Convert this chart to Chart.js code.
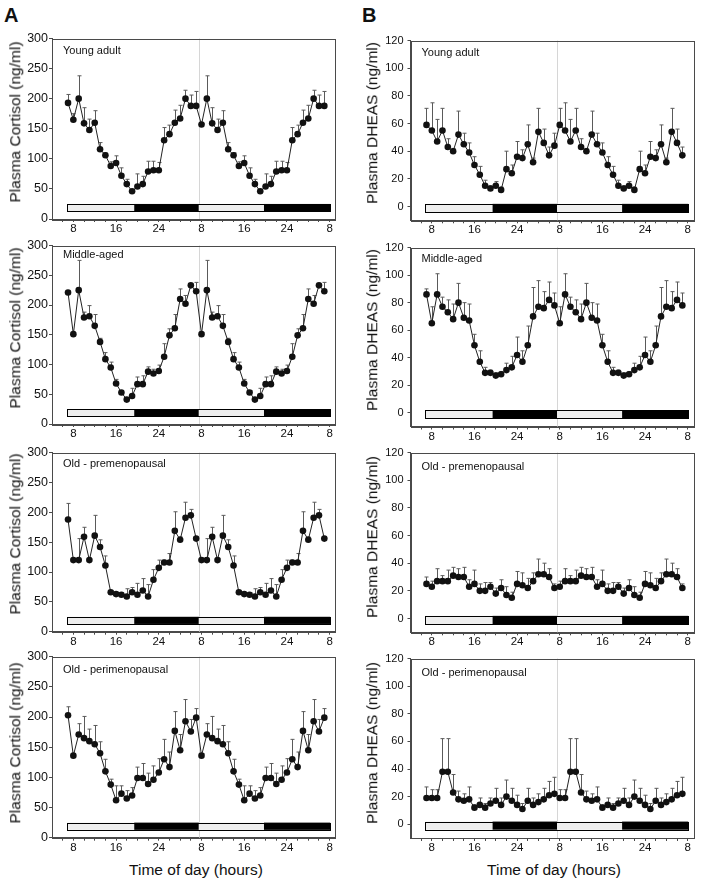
<!DOCTYPE html>
<html>
<head>
<meta charset="utf-8">
<script src="https://cdn.jsdelivr.net/npm/chart.js@4.4.1/dist/chart.umd.min.js"></script>
<style>
  body { margin: 0; background: #fff; }
  #fig { position: relative; width: 710px; height: 884px; overflow: hidden; font-family: 'Liberation Sans', Arial, sans-serif; color: #111; }
  #fig canvas { position: absolute; }
  .txt { position: absolute; white-space: nowrap; line-height: 1; }
  .big { font-size: 20px; font-weight: bold; }
  .ytitle { font-size: 15.5px; transform: translate(-50%, -50%) rotate(-90deg); }
  .xtitle { font-size: 15.5px; transform: translate(-50%, -50%); }
</style>
</head>
<body>
<div id="fig">
  <div class="txt big" style="left:4px; top:5px;">A</div>
  <div class="txt big" style="left:362px; top:5px;">B</div>
  <div class="txt xtitle" style="left:196px; top:870px;">Time of day (hours)</div>
  <div class="txt xtitle" style="left:554px; top:870px;">Time of day (hours)</div>
</div>
<script>
// ---- data ----
const hours = [7, 8, 9, 10, 11, 12, 13, 14, 15, 16, 17, 18, 19, 20, 21, 22, 23, 24, 25, 26, 27, 28, 29, 30, 31,
               32, 33, 34, 35, 36, 37, 38, 39, 40, 41, 42, 43, 44, 45, 46, 47, 48, 49, 50, 51, 52, 53, 54, 55];
const tickHours = [6, 8, 10, 12, 14, 16, 18, 20, 22, 24, 26, 28, 30, 32, 34, 36, 38, 40, 42, 44, 46, 48, 50, 52, 54, 56];
const tickLabels = { 8: '8', 16: '16', 24: '24', 32: '8', 40: '16', 48: '24', 56: '8' };
const lightDark = [6.8, 19.4, 31.5, 43.7, 56.1];
const phases = ['light', 'dark', 'light', 'dark'];
const dayBreak = 31.5;

// plasma cortisol (ng/ml), mean and upper SEM
const cortYoung = [193, 165, 200, 159, 148, 160, 116, 106, 88, 93, 72, 58, 46, 54, 58, 79, 81, 81, 131, 141, 160, 167, 200, 188, 188,
                   157, 200, 159, 148, 160, 116, 106, 88, 93, 72, 58, 46, 54, 58, 79, 81, 81, 131, 141, 160, 167, 200, 188, 188];
const cortYoungErr = [14, 10, 38, 26, 18, 20, 11, 4, 7, 12, 13, 8, 3, 21, 13, 17, 15, 13, 21, 15, 21, 22, 14, 18, 24,
                      2, 38, 26, 18, 20, 11, 4, 7, 12, 13, 8, 3, 21, 13, 17, 15, 13, 21, 15, 21, 22, 14, 18, 24];
const cortMiddle = [221, 151, 225, 179, 181, 165, 138, 109, 95, 68, 53, 41, 47, 67, 67, 88, 85, 89, 113, 149, 161, 210, 202, 233, 223,
                    151, 225, 179, 181, 165, 138, 109, 95, 68, 53, 41, 47, 67, 67, 88, 85, 89, 113, 149, 161, 210, 202, 233, 223];
const cortMiddleErr = [3, 2, 50, 9, 18, 19, 6, 11, 9, 7, 3, 2, 13, 12, 14, 8, 7, 10, 22, 11, 23, 17, 14, 2, 15,
                       2, 50, 9, 18, 19, 6, 11, 9, 7, 3, 2, 13, 12, 14, 8, 7, 10, 22, 11, 23, 17, 14, 2, 15];
const cortPre = [188, 120, 120, 159, 120, 161, 142, 111, 66, 63, 62, 59, 66, 62, 69, 59, 87, 107, 116, 116, 169, 154, 191, 195, 156,
                 120, 120, 159, 120, 161, 142, 111, 66, 63, 62, 59, 66, 62, 69, 59, 87, 107, 116, 116, 169, 154, 191, 195, 156];
const cortPreErr = [27, 3, 36, 16, 3, 34, 12, 16, 3, 3, 3, 13, 8, 19, 20, 20, 17, 13, 4, 15, 32, 5, 26, 10, 3,
                    3, 36, 16, 3, 34, 12, 16, 3, 3, 3, 13, 8, 19, 20, 20, 17, 13, 4, 15, 32, 5, 26, 10, 3];
const cortPeri = [203, 136, 171, 165, 160, 155, 140, 110, 88, 62, 73, 65, 70, 99, 99, 89, 96, 108, 130, 117, 177, 145, 193, 176, 199,
                  136, 171, 165, 160, 155, 140, 110, 88, 62, 73, 65, 70, 99, 99, 89, 96, 108, 130, 117, 177, 145, 193, 176, 199];
const cortPeriErr = [14, 3, 18, 36, 20, 31, 19, 20, 9, 24, 13, 13, 13, 18, 24, 18, 23, 23, 33, 25, 32, 26, 36, 20, 15,
                     3, 18, 36, 20, 31, 19, 20, 9, 24, 13, 13, 13, 18, 24, 18, 23, 23, 33, 25, 32, 26, 36, 20, 15];

// plasma DHEAS (ng/ml)
const dheaYoung = [59, 55, 47, 55, 43, 40, 52, 45, 39, 30, 23, 15, 13, 15, 12, 27, 24, 36, 35, 45, 32, 54, 46, 37, 44,
                   59, 55, 47, 55, 43, 40, 52, 45, 39, 30, 23, 15, 13, 15, 12, 27, 24, 36, 35, 45, 32, 54, 46, 37];
const dheaYoungErr = [12, 20, 16, 16, 6, 2, 17, 8, 7, 6, 6, 4, 2, 3, 2, 13, 6, 11, 6, 14, 3, 17, 10, 6, 9,
                      12, 20, 16, 16, 6, 2, 17, 8, 7, 6, 6, 4, 2, 3, 2, 13, 6, 11, 6, 14, 3, 17, 10, 6];
const dheaMiddle = [86, 65, 86, 77, 73, 68, 80, 69, 67, 49, 37, 29, 29, 27, 28, 31, 33, 42, 37, 49, 70, 77, 76, 82, 78,
                    65, 86, 77, 73, 68, 80, 69, 67, 49, 37, 29, 29, 27, 28, 31, 33, 42, 37, 49, 70, 77, 76, 82, 78];
const dheaMiddleErr = [4, 12, 15, 7, 9, 11, 14, 11, 12, 8, 8, 4, 2, 2, 2, 5, 8, 13, 8, 14, 21, 19, 12, 13, 9,
                       12, 15, 7, 9, 11, 14, 11, 12, 8, 8, 4, 2, 2, 2, 5, 8, 13, 8, 14, 21, 19, 12, 13, 9];
const dheaPre = [25, 23, 27, 27, 27, 31, 30, 30, 23, 25, 20, 20, 23, 18, 22, 17, 15, 25, 24, 22, 27, 32, 32, 30, 22,
                 23, 27, 27, 27, 31, 30, 30, 23, 25, 20, 20, 23, 18, 22, 17, 15, 25, 24, 22, 27, 32, 32, 30, 22];
const dheaPreErr = [5, 4, 9, 4, 8, 6, 6, 7, 5, 10, 5, 6, 3, 4, 6, 6, 4, 9, 9, 7, 6, 11, 8, 6, 3,
                    4, 9, 4, 8, 6, 6, 7, 5, 10, 5, 6, 3, 4, 6, 6, 4, 9, 9, 7, 6, 11, 8, 6, 3];
const dheaPeri = [19, 19, 19, 38, 38, 23, 18, 17, 18, 12, 14, 12, 15, 17, 14, 20, 17, 14, 11, 17, 14, 16, 18, 21, 22,
                  19, 19, 38, 38, 23, 18, 17, 18, 12, 14, 12, 15, 17, 14, 20, 17, 14, 11, 17, 14, 16, 18, 21, 22];
const dheaPeriErr = [8, 6, 6, 24, 24, 13, 6, 5, 9, 2, 5, 3, 4, 9, 5, 12, 9, 7, 4, 9, 5, 6, 8, 10, 12,
                     6, 6, 24, 24, 13, 6, 5, 9, 2, 5, 3, 4, 9, 5, 12, 9, 7, 4, 9, 5, 6, 8, 10, 12];

const groups = ['Young adult', 'Middle-aged', 'Old - premenopausal', 'Old - perimenopausal'];

// ---- layout ----
const fontFamily = "'Liberation Sans', Arial, sans-serif";
const axisColor = '#4a4a4a';
const columns = {
    A: { x: 0, plotLeft: 52, plotRight: 335, min: 0, max: 300, yTicks: [0, 50, 100, 150, 200, 250, 300],
         band: [13, 25], tickSize: 12.5, tickPad: 1, title: 'Plasma Cortisol (ng/ml)', titleX: 14.5 },
    B: { x: 355, plotLeft: 410.5, plotRight: 693, min: -10, max: 120, yTicks: [0, 20, 40, 60, 80, 100, 120],
         band: [-4, 1.9], tickSize: 11, tickPad: 4, title: 'Plasma DHEAS (ng/ml)', titleX: 372 },
};

const panels = [
    { col: 'A', top: 38.3, bottom: 219, name: groups[0], values: cortYoung, errors: cortYoungErr, labelDy: 12.7, titleY: 121.7 },
    { col: 'A', top: 245, bottom: 424, name: groups[1], values: cortMiddle, errors: cortMiddleErr, labelDy: 9, titleY: 328.3 },
    { col: 'A', top: 452.7, bottom: 631.7, name: groups[2], values: cortPre, errors: cortPreErr, labelDy: 11, titleY: 534 },
    { col: 'A', top: 656.7, bottom: 837.7, name: groups[3], values: cortPeri, errors: cortPeriErr, labelDy: 13.3, titleY: 743 },
    { col: 'B', top: 38.3, bottom: 220.3, name: groups[0], values: dheaYoung, errors: dheaYoungErr, labelDy: 12.4, titleY: 122.5 },
    { col: 'B', top: 245, bottom: 426.5, name: groups[1], values: dheaMiddle, errors: dheaMiddleErr, labelDy: 11, titleY: 330 },
    { col: 'B', top: 450.7, bottom: 632.3, name: groups[2], values: dheaPre, errors: dheaPreErr, labelDy: 14, titleY: 536.5 },
    { col: 'B', top: 656.7, bottom: 838, name: groups[3], values: dheaPeri, errors: dheaPeriErr, labelDy: 14, titleY: 742.5 },
];

// light/dark bar, day boundary, error bars, frame, group label
const panelDecor = {
    id: 'panelDecor',
    beforeDatasetsDraw(chart, args, opts) {
        const { ctx, chartArea: a, scales: { x, y } } = chart;
        ctx.save();
        const vx = Math.round(x.getPixelForValue(dayBreak)) + 0.5;
        ctx.strokeStyle = '#d6d6d6';
        ctx.lineWidth = 1;
        ctx.beginPath();
        ctx.moveTo(vx, a.top);
        ctx.lineTo(vx, a.bottom);
        ctx.stroke();

        const yTop = y.getPixelForValue(opts.band[1]);
        const yBot = y.getPixelForValue(opts.band[0]);
        phases.forEach((ph, i) => {
            const x0 = x.getPixelForValue(lightDark[i]);
            const x1 = x.getPixelForValue(lightDark[i + 1]);
            ctx.fillStyle = ph === 'dark' ? '#000' : '#eeeeee';
            ctx.fillRect(x0, yTop, x1 - x0, yBot - yTop);
        });
        const bx0 = x.getPixelForValue(lightDark[0]);
        const bx1 = x.getPixelForValue(lightDark[lightDark.length - 1]);
        ctx.strokeStyle = '#000';
        ctx.strokeRect(Math.round(bx0) + 0.5, Math.round(yTop) + 0.5, Math.round(bx1 - bx0), Math.round(yBot - yTop));

        // upward error bars
        const ds = chart.data.datasets[0];
        ctx.strokeStyle = '#5a5a5a';
        ds.data.forEach((d, i) => {
            const e = ds.errors[i];
            if (!e) return;
            const px = Math.round(x.getPixelForValue(d.x)) + 0.5;
            const p0 = y.getPixelForValue(d.y);
            const p1 = y.getPixelForValue(d.y + e);
            ctx.beginPath();
            ctx.moveTo(px, p0);
            ctx.lineTo(px, p1);
            ctx.moveTo(px - 2, p1);
            ctx.lineTo(px + 2, p1);
            ctx.stroke();
        });
        ctx.restore();
    },
    afterDraw(chart, args, opts) {
        const { ctx, chartArea: a } = chart;
        ctx.save();
        ctx.strokeStyle = axisColor;
        ctx.lineWidth = 1;
        ctx.strokeRect(Math.round(a.left) + 0.5, Math.round(a.top) + 0.5, Math.round(a.right - a.left), Math.round(a.bottom - a.top));
        ctx.fillStyle = '#111';
        ctx.font = '11px ' + fontFamily;
        ctx.textBaseline = 'middle';
        ctx.fillText(opts.name, a.left + 11, a.top + opts.labelDy);
        ctx.restore();
    }
};

const fig = document.getElementById('fig');

panels.forEach(p => {
    const c = columns[p.col];
    const canvasTop = Math.floor(p.top) - 8;
    const canvasH = Math.ceil(p.bottom) + 22 - canvasTop;
    const xH = canvasH - (p.bottom - canvasTop);

    const cv = document.createElement('canvas');
    cv.width = 355;
    cv.height = canvasH;
    cv.style.left = c.x + 'px';
    cv.style.top = canvasTop + 'px';
    fig.appendChild(cv);

    const t = document.createElement('div');
    t.className = 'txt ytitle';
    t.style.left = c.titleX + 'px';
    t.style.top = p.titleY + 'px';
    t.textContent = c.title;
    fig.appendChild(t);

    new Chart(cv, {
        type: 'line',
        data: {
            datasets: [{
                data: hours.map((h, i) => ({ x: h, y: p.values[i] })),
                errors: p.errors,
                borderColor: '#222',
                borderWidth: 1,
                pointRadius: 3.3,
                pointBorderWidth: 0,
                pointBackgroundColor: '#111',
                tension: 0,
            }]
        },
        options: {
            responsive: false,
            animation: false,
            devicePixelRatio: 1,
            layout: { padding: { top: p.top - canvasTop, right: c.x + 355 - c.plotRight, left: 0, bottom: 0 } },
            plugins: {
                legend: { display: false },
                tooltip: { enabled: false },
                panelDecor: { name: p.name, labelDy: p.labelDy, band: c.band },
            },
            scales: {
                x: {
                    type: 'linear', min: 4, max: 57,
                    afterBuildTicks: s => { s.ticks = tickHours.map(v => ({ value: v })); },
                    afterFit: s => { s.height = xH; },
                    ticks: {
                        autoSkip: false, maxRotation: 0, padding: 0, color: '#111',
                        font: { family: fontFamily, size: 11.5 },
                        callback: v => tickLabels[v] || '',
                    },
                    grid: { drawOnChartArea: false, tickLength: 3, color: axisColor },
                    border: { color: axisColor },
                },
                y: {
                    min: c.min, max: c.max,
                    afterBuildTicks: s => { s.ticks = c.yTicks.map(v => ({ value: v })); },
                    afterFit: s => { s.width = c.plotLeft - c.x; },
                    ticks: { padding: c.tickPad, color: '#111', font: { family: fontFamily, size: c.tickSize } },
                    grid: { drawOnChartArea: false, tickLength: 3, color: axisColor },
                    border: { color: axisColor },
                }
            }
        },
        plugins: [panelDecor]
    });
});
</script>
</body>
</html>
